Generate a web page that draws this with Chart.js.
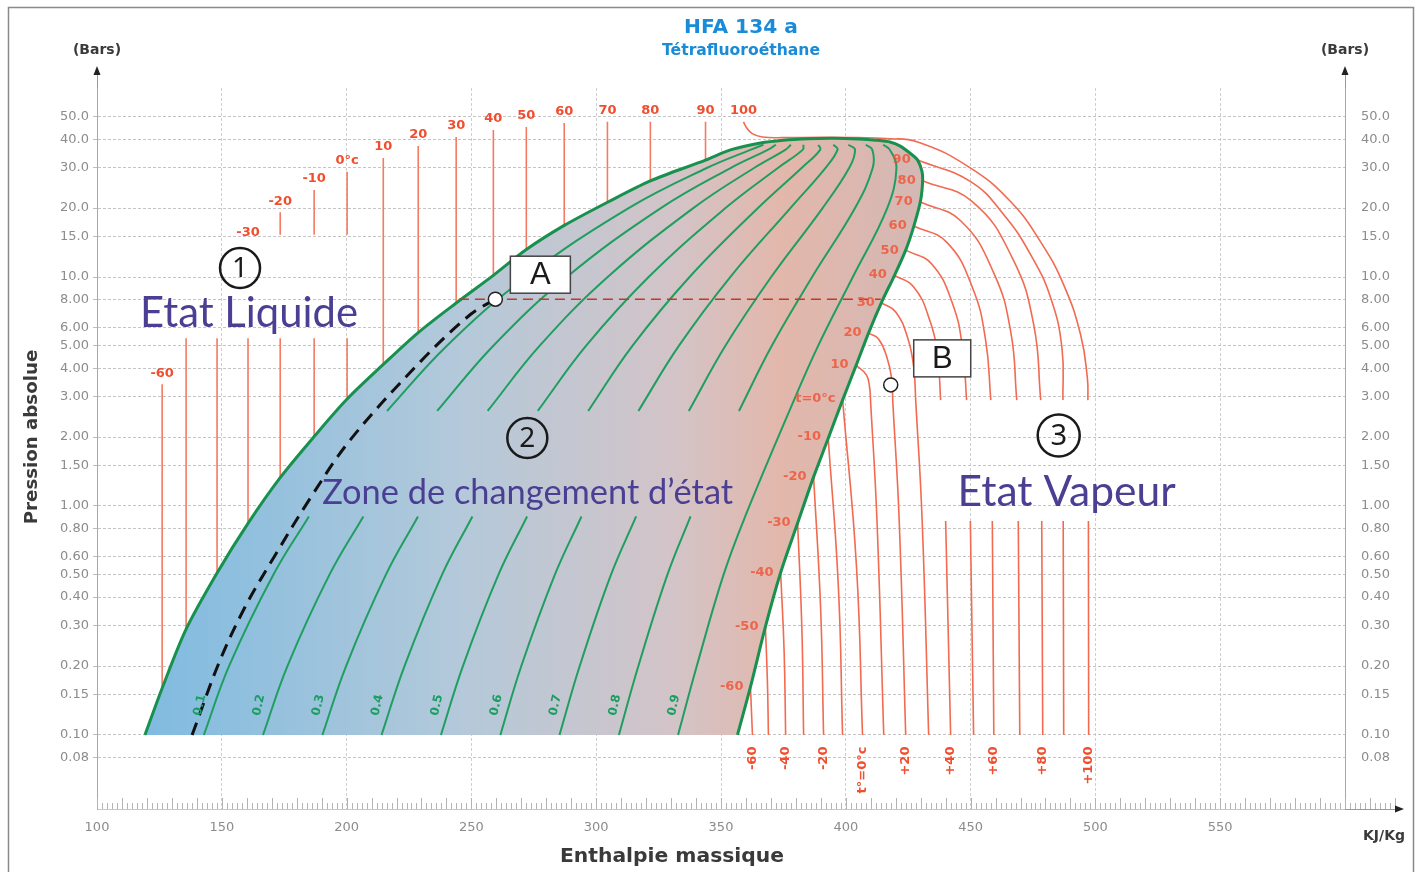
<!DOCTYPE html>
<html lang="fr">
<head>
<meta charset="utf-8">
<title>HFA 134 a - diagramme enthalpique</title>
<script src="https://cdn.jsdelivr.net/npm/chart.js@4.4.1/dist/chart.umd.min.js"></script>
<style>
  html, body { margin: 0; padding: 0; background: #fff; }
  canvas { display: block; }
</style>
</head>
<body>
<canvas id="chart" width="1424" height="872"></canvas>
<script>
// ----- axes -----
const xTicks = [100, 150, 200, 250, 300, 350, 400, 450, 500, 550, 600];
const yTicks = [50, 40, 30, 20, 15, 10, 8, 6, 5, 4, 3, 2, 1.5, 1, 0.8, 0.6, 0.5, 0.4, 0.3, 0.2, 0.15, 0.1, 0.08];

// ----- courbe de saturation (enthalpie kJ/kg, pression bar) -----
const liqH = [119.2, 126.1, 135.7, 148.1, 160.5, 173.4, 187.0, 200.2, 214.7, 228.7, 243.9, 258.8, 272.0, 287.2, 304.5, 321.7, 343.8, 353.8, 365.8, 375.0, 385.0, 395.0, 405.0];
const liqP = [0.10, 0.16, 0.29, 0.51, 0.84, 1.33, 2.01, 2.93, 4.15, 5.72, 7.70, 10.17, 13.18, 16.8, 21.2, 26.3, 32.4, 35.9, 38.5, 39.6, 40.2, 40.4, 40.1];
const vapH = [412.0, 418.0, 422.0, 426.5, 428.8, 430.5, 430.8, 430.0, 427.2, 424.0, 419.2, 414.8, 409.1, 403.9, 398.7, 392.7, 387.1, 380.7, 373.9, 367.8, 361.8, 356.6];
const vapP = [39.6, 38.8, 37.2, 34.2, 32.4, 29.0, 26.5, 21.7, 16.6, 13.1, 10.0, 7.96, 5.69, 4.05, 2.90, 1.94, 1.34, 0.843, 0.512, 0.297, 0.162, 0.10];

// ----- isothermes liquide (traits verticaux) -----
const liqIsoLabels = ['-60', '', '', '-30', '-20', '-10', '0°c', '10', '20', '30', '40', '50', '60', '70', '80', '90'];
const liqIsoH = [126.1, 135.7, 148.1, 160.5, 173.4, 187.0, 200.2, 214.7, 228.7, 243.9, 258.8, 272.0, 287.2, 304.5, 321.7, 343.8];
const liqIsoTop = [3.4, 7.0, 11.0, 14.0, 19.2, 24.0, 28.8, 33.1, 37.3, 40.9, 43.9, 45.2, 47.0, 47.6, 47.6, 47.6];
const liqIsoBottom = [0.16, 0.29, 0.51, 0.84, 1.33, 2.01, 2.93, 4.15, 5.72, 7.70, 10.17, 13.18, 16.8, 21.2, 26.3, 32.4];

// ----- isothermes vapeur -----
const vapIsoT = [-60, -50, -40, -30, -20, -10, 0, 10, 20, 30, 40, 50, 60, 70, 80, 90, 100];
const vapIsoH = [
  [361.8, 362.6],
  [367.8, 368.6, 369.0],
  [373.9, 375.3, 375.9],
  [380.7, 382.4, 383.1],
  [387.1, 389.9, 391.1],
  [392.9, 397.0, 398.7],
  [398.7, 404.3, 406.7],
  [403.9, 408.3, 409.6, 409.9, 412.5, 415.2],
  [409.1, 413.1, 416.4, 418.4, 418.8, 421.4, 424.0],
  [414.4, 420.0, 424.8, 427.2, 428.0, 430.6, 433.2],
  [419.2, 427.2, 433.6, 436.8, 438.0, 440.0, 442.0],
  [424.0, 434.4, 442.8, 446.8, 448.4, 449.9, 451.2],
  [427.2, 440.4, 450.8, 456.0, 458.1, 458.7, 459.3],
  [429.6, 446.0, 459.3, 466.1, 468.5, 469.1, 469.7],
  [430.8, 450.8, 466.9, 475.3, 478.1, 478.5, 478.9],
  [428.8, 450.0, 463.3, 474.1, 482.1, 486.6, 487.0, 487.1, 487.3],
  [359.0, 360.2, 362.5, 366.5, 375.0, 390.0, 405.0, 416.0, 428.8, 450.0, 466.1, 478.1, 487.3, 494.1, 496.8, 497.0, 497.2, 497.3]
];
const vapIsoP = [
  [0.162, 0.1],
  [0.297, 0.17, 0.1],
  [0.512, 0.23, 0.1],
  [0.843, 0.29, 0.1],
  [1.34, 0.36, 0.1],
  [2.01, 0.45, 0.1],
  [2.93, 0.54, 0.1],
  [4.13, 3.73, 3.25, 2.9, 0.86, 0.1],
  [5.69, 5.36, 4.48, 3.59, 2.9, 0.86, 0.1],
  [7.70, 7.04, 5.42, 4.05, 2.9, 0.86, 0.1],
  [10.2, 9.05, 6.49, 4.48, 2.9, 0.86, 0.1],
  [13.1, 11.4, 7.63, 4.85, 2.9, 0.86, 0.1],
  [16.7, 14.2, 8.96, 5.31, 2.9, 0.86, 0.1],
  [21.3, 17.6, 10.4, 5.75, 2.9, 0.86, 0.1],
  [26.3, 21.3, 12.0, 6.18, 2.9, 0.86, 0.1],
  [32.4, 26.1, 18.7, 12.5, 8.1, 4.9, 2.9, 0.86, 0.1],
  [47.6, 45.0, 42.3, 40.9, 40.6, 40.8, 40.6, 40.2, 38.9, 29.9, 21.3, 14.2, 9.24, 5.58, 3.6, 2.9, 0.86, 0.1]
];

// ----- lignes d'égal titre -----
const qualityLabels = ['0.1', '0.2', '0.3', '0.4', '0.5', '0.6', '0.7', '0.8', '0.9'];
const qualityP = [0.1, 0.2, 0.5, 0.9, 2.6, 5, 10, 20, 30, 36, 37.8];
const qualityH = [
  [142.8, 152.9, 170.6, 184.9, 216.2, 240.1, 271.9, 313.0, 344.5, 362.0, 367],
  [166.5, 176.3, 193.1, 206.7, 236.3, 258.7, 288.2, 325.9, 354.0, 368.9, 372],
  [190.3, 199.8, 215.7, 228.6, 256.5, 277.3, 304.6, 338.9, 363.4, 375.9, 378],
  [214.0, 223.2, 238.2, 250.4, 276.6, 295.9, 321.0, 351.8, 372.9, 382.8, 383],
  [237.8, 246.6, 260.8, 272.3, 296.8, 314.5, 337.4, 364.8, 382.4, 389.8, 389],
  [261.6, 270.0, 283.4, 294.1, 316.9, 333.1, 353.7, 377.8, 391.9, 396.7, 395],
  [285.3, 293.4, 305.9, 316.0, 337.1, 351.7, 370.1, 390.7, 401.4, 403.7, 401],
  [309.1, 316.9, 328.5, 337.8, 357.2, 370.3, 386.5, 403.7, 410.8, 410.6, 408],
  [332.8, 340.3, 351.0, 359.7, 377.4, 388.9, 402.8, 416.6, 420.3, 417.6, 415]
];

// ----- palier à 8 bar, trait noir, points A et B -----
const palierH = [245.0, 414.0];
const palierP = [8, 8];
const dashH = [138.1, 148.9, 159.3, 171.0, 185.4, 201.4, 229.5, 249.6, 259.6];
const dashP = [0.1, 0.207, 0.362, 0.60, 1.08, 1.94, 4.26, 6.86, 8.0];
const pointNames = ['A', 'B'];
const pointH = [259.6, 418.0];
const pointP = [8.0, 3.38];

// ----- construction des séries -----
const FONT = '"DejaVu Sans", sans-serif';
const RED = '#f26a50';
const GREEN = '#1f9e60';
const GAP = {x: null, y: null};

const xy = (hs, ps) => hs.map((h, i) => ({x: h, y: ps[i]}));
const line = (data, color, width, order, extra) => Object.assign({
  data, showLine: true, borderColor: color, borderWidth: width,
  pointRadius: 0, tension: 0.35, fill: false, order
}, extra || {});

function domeFill(chart) {
  const sx = chart.scales.x;
  if (!sx || !chart.chartArea) return '#c0c8d0';
  const x0 = sx.getPixelForValue(120), x1 = sx.getPixelForValue(430);
  if (!isFinite(x0) || !isFinite(x1) || x1 <= x0) return '#c0c8d0';
  const g = chart.ctx.createLinearGradient(x0, 0, x1, 0);
  g.addColorStop(0, '#80bbe0');
  g.addColorStop(0.4, '#b3c9da');
  g.addColorStop(0.68, '#d3c4c8');
  g.addColorStop(0.82, '#e3b7ab');
  g.addColorStop(1, '#d4b8b4');
  return g;
}

const datasets = [];
const dome = xy(liqH.concat(vapH), liqP.concat(vapP));

// zone de changement d'état (remplissage)
datasets.push(line(dome, 'rgba(0,0,0,0)', 0, 10, {fill: 'shape', backgroundColor: c => domeFill(c.chart), tension: 0.3}));

// isothermes liquide, coupées sous « Etat Liquide »
const liqMask = {h: 208, pHi: 15.3, pLo: 5.4};
liqIsoH.forEach((h, i) => {
  const top = liqIsoTop[i], bot = liqIsoBottom[i];
  let d = [{x: h, y: top}, {x: h, y: bot}];
  if (h < liqMask.h && top > liqMask.pLo) {
    d = [];
    if (top > liqMask.pHi) d.push({x: h, y: top}, {x: h, y: liqMask.pHi}, GAP);
    d.push({x: h, y: liqMask.pLo}, {x: h, y: bot});
  }
  datasets.push(line(d, '#f47a62', 1.6, 8, {tension: 0}));
});

// isothermes vapeur, coupées sous « Etat Vapeur »
const vapMaskH = 436.5;
vapIsoH.forEach((hs, i) => {
  const d = xy(hs, vapIsoP[i]);
  const k = vapIsoP[i].indexOf(2.9);
  if (k >= 0 && hs[k] >= vapMaskH) d.splice(k + 1, 0, GAP);
  datasets.push(line(d, RED, 1.6, 8, {tension: 0.45}));
});

// titres, coupés sous « Zone de changement d'état »
qualityH.forEach(hs => {
  const d = xy(hs, qualityP);
  if (hs[3] < 355) d.splice(4, 0, GAP);
  datasets.push(line(d, GREEN, 2, 7, {tension: 0.4}));
});

// contour de la cloche
datasets.push(line(dome, '#17914d', 3, 6, {tension: 0.3}));

datasets.push(line(xy(palierH, palierP), '#c0392b', 1.6, 3, {borderDash: [10, 6], tension: 0}));
datasets.push(line(xy(dashH, dashP), '#111', 3, 2, {borderDash: [13, 8]}));
datasets.push({
  data: xy(pointH, pointP), showLine: false, order: 1,
  pointRadius: 7, pointBackgroundColor: '#fff', pointBorderColor: '#222', pointBorderWidth: 1.5
});

// ----- textes et décor -----
function fit(c, text, width, style, family) {
  c.font = style + ' 100px ' + family;
  const s = 100 * width / c.measureText(text).width;
  c.font = style + ' ' + s.toFixed(1) + 'px ' + family;
}

const decor = {
  id: 'decor',
  beforeDraw(chart) {
    const c = chart.ctx;
    c.save();
    c.fillStyle = '#fff';
    c.fillRect(0, 0, chart.width, chart.height);
    c.strokeStyle = '#8a8a8a';
    c.lineWidth = 1.5;
    c.strokeRect(8.5, 7.5, 1405, 890);
    c.restore();
  },
  afterDraw(chart) {
    const c = chart.ctx, a = chart.chartArea;
    const sx = chart.scales.x, sy = chart.scales.y;
    const px = h => sx.getPixelForValue(h), py = p => sy.getPixelForValue(p);
    c.save();

    // graduations fines de l'axe des enthalpies
    c.strokeStyle = '#b3b3b3';
    c.lineWidth = 1;
    c.beginPath();
    for (let v = 100; v <= 620; v += 2) {
      const X = Math.round(px(v)) + 0.5, len = v % 10 === 0 ? 11 : 6;
      c.moveTo(X, a.bottom);
      c.lineTo(X, a.bottom - len);
    }
    c.stroke();

    // flèches des axes
    c.strokeStyle = '#9a9a9a';
    c.fillStyle = '#222';
    [a.left, a.right].forEach(X => {
      c.beginPath(); c.moveTo(X + 0.5, a.top); c.lineTo(X + 0.5, 74); c.stroke();
      c.beginPath(); c.moveTo(X, 66); c.lineTo(X - 3.5, 75); c.lineTo(X + 3.5, 75); c.closePath(); c.fill();
    });
    c.beginPath(); c.moveTo(a.right, a.bottom + 0.5); c.lineTo(1396, a.bottom + 0.5); c.stroke();
    c.beginPath(); c.moveTo(1404, a.bottom); c.lineTo(1395, a.bottom - 3.5); c.lineTo(1395, a.bottom + 3.5); c.closePath(); c.fill();

    // titres
    c.textAlign = 'center';
    c.textBaseline = 'middle';
    c.fillStyle = '#1a8bd6';
    fit(c, 'HFA 134 a', 114, 'bold', FONT);
    c.fillText('HFA 134 a', 741, 28);
    fit(c, 'Tétrafluoroéthane', 158, 'bold', FONT);
    c.fillText('Tétrafluoroéthane', 741, 51);

    c.fillStyle = '#3a3a3a';
    c.font = 'bold 14px ' + FONT;
    c.fillText('(Bars)', a.left, 50);
    c.fillText('(Bars)', a.right, 50);
    c.fillText('KJ/Kg', 1384, 836);
    fit(c, 'Enthalpie massique', 224, 'bold', FONT);
    c.fillText('Enthalpie massique', 672, 857);
    c.save();
    c.translate(32, 437);
    c.rotate(-Math.PI / 2);
    fit(c, 'Pression absolue', 175, 'bold', FONT);
    c.fillText('Pression absolue', 0, 0);
    c.restore();

    // étiquettes des isothermes liquide
    c.font = 'bold 13px ' + FONT;
    c.fillStyle = '#f04e2e';
    liqIsoH.forEach((h, i) => {
      if (liqIsoLabels[i]) c.fillText(liqIsoLabels[i], px(h), py(liqIsoTop[i]) - 11);
    });
    const last = vapIsoH.length - 1;
    c.fillText(String(vapIsoT[last]), px(vapIsoH[last][0]), py(vapIsoP[last][0]) - 11);

    // étiquettes sur la courbe de vapeur saturée
    c.textAlign = 'right';
    c.fillStyle = 'rgba(238,86,56,0.85)';
    vapIsoT.forEach((t, i) => {
      if (i === last) return;
      c.fillText(t === 0 ? 't=0°c' : String(t), px(vapIsoH[i][0]) - 7, py(vapIsoP[i][0]));
    });

    // étiquettes verticales en bas
    c.fillStyle = '#f04e2e';
    vapIsoT.forEach((t, i) => {
      if (t % 20 !== 0) return;
      const hs = vapIsoH[i];
      const txt = t === 0 ? 't°=0°c' : (t > 0 ? '+' + t : String(t));
      c.save();
      c.translate(px(hs[hs.length - 1]), py(0.089));
      c.rotate(-Math.PI / 2);
      c.fillText(txt, 0, 0);
      c.restore();
    });

    // étiquettes des titres
    c.textAlign = 'center';
    c.fillStyle = '#1a9e62';
    c.font = 'bold 12px ' + FONT;
    qualityH.forEach((hs, i) => {
      c.save();
      c.translate(px(hs[0]) - 4, py(0.135));
      c.rotate(-1.35);
      c.fillText(qualityLabels[i], 0, 0);
      c.restore();
    });

    // numéros cerclés
    const ring = (h, p, r, n) => {
      const X = px(h), Y = py(p);
      c.beginPath();
      c.arc(X, Y, r, 0, Math.PI * 2);
      c.lineWidth = 2.5;
      c.strokeStyle = '#1a1a1a';
      c.stroke();
      c.fillStyle = '#1a1a1a';
      c.font = Math.round(r * 1.4) + 'px "Noto Sans", sans-serif';
      c.textAlign = 'center';
      c.fillText(n, X, Y + 1);
    };
    ring(157.3, 10.95, 20, '1');
    ring(272.4, 1.98, 20, '2');
    ring(485.3, 2.03, 21, '3');

    // noms des zones
    c.textAlign = 'left';
    c.fillStyle = '#4a3f93';
    fit(c, 'Etat Liquide', 218, 'normal', 'Lato, sans-serif');
    c.fillText('Etat Liquide', px(117.2), py(6.9));
    fit(c, 'Zone de changement d’état', 411, 'normal', 'Lato, sans-serif');
    c.fillText('Zone de changement d’état', px(190.2), py(1.14));
    fit(c, 'Etat Vapeur', 218, 'normal', 'Lato, sans-serif');
    c.fillText('Etat Vapeur', px(444.8), py(1.15));

    // cadres A et B
    const boxes = [[15, -43, 60, 37], [23, -45, 57, 37]];
    pointNames.forEach((n, i) => {
      const X = px(pointH[i]), Y = py(pointP[i]);
      const [dx, dy, w, hgt] = boxes[i];
      c.fillStyle = '#fff';
      c.fillRect(X + dx, Y + dy, w, hgt);
      c.strokeStyle = '#444';
      c.lineWidth = 1.5;
      c.strokeRect(X + dx, Y + dy, w, hgt);
      c.fillStyle = '#1a1a1a';
      c.font = '31px "Liberation Sans", sans-serif';
      c.textAlign = 'center';
      c.fillText(n, X + dx + w / 2, Y + dy + hgt / 2 + 1);
    });

    c.restore();
  }
};

const yTickCallback = v => v >= 10 ? v.toFixed(1) : v.toFixed(2);

new Chart(document.getElementById('chart'), {
  type: 'scatter',
  data: {datasets},
  options: {
    responsive: false,
    animation: false,
    devicePixelRatio: 1,
    events: [],
    layout: {padding: {top: 88, left: 0, right: 0, bottom: 0}},
    font: {family: FONT},
    plugins: {legend: {display: false}, tooltip: {enabled: false}},
    scales: {
      x: {
        type: 'linear', position: 'bottom', min: 100, max: 600,
        afterBuildTicks: s => { s.ticks = xTicks.map(v => ({value: v})); },
        afterFit: s => { s.height = 63; },
        ticks: {callback: v => v === 600 ? '' : String(v), color: '#8c8c8c', font: {size: 13, family: FONT}, padding: 11, maxRotation: 0, autoSkip: false},
        grid: {color: '#cfcfcf', drawTicks: false},
        border: {display: true, color: '#c8c8c8', dash: [3, 2]}
      },
      y: {
        type: 'logarithmic', position: 'left', min: 0.0475, max: 66.9,
        afterBuildTicks: s => { s.ticks = yTicks.map(v => ({value: v})); },
        afterFit: s => { s.width = 97; },
        ticks: {callback: yTickCallback, color: '#8c8c8c', font: {size: 13, family: FONT}, padding: 4, autoSkip: false},
        grid: {color: '#c4c4c4', tickLength: 4, tickColor: '#bdbdbd'},
        border: {display: true, color: '#a8a8a8', dash: [3, 2]}
      },
      y2: {
        type: 'logarithmic', position: 'right', min: 0.0475, max: 66.9,
        afterBuildTicks: s => { s.ticks = yTicks.map(v => ({value: v})); },
        afterFit: s => { s.width = 79; },
        ticks: {callback: yTickCallback, color: '#8c8c8c', font: {size: 13, family: FONT}, padding: 8, autoSkip: false},
        grid: {display: false},
        border: {display: true, color: '#a8a8a8'}
      }
    }
  },
  plugins: [decor]
});
</script>
</body>
</html>
